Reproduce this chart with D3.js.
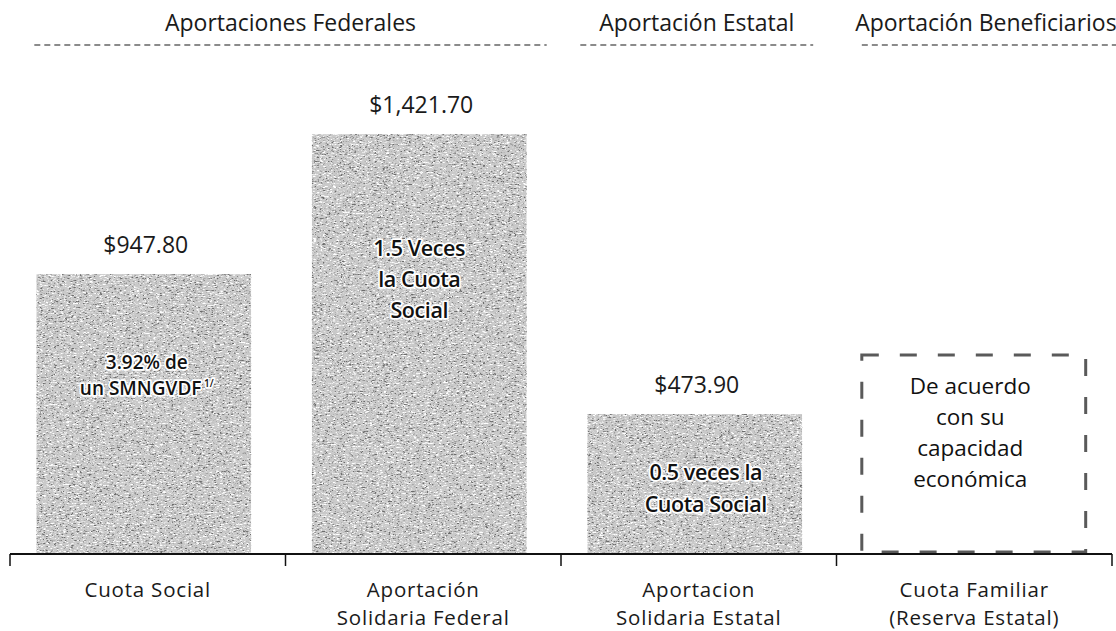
<!DOCTYPE html>
<html><head><meta charset="utf-8">
<script src="https://cdn.jsdelivr.net/npm/d3@7"></script>
<style>body{margin:0;background:#fff}svg{display:block}</style>
</head><body>
<svg id="chart" width="1116" height="631"></svg>
<script>
const categories = [["Cuota Social"], ["Aportación", "Solidaria Federal"], ["Aportacion", "Solidaria Estatal"], ["Cuota Familiar", "(Reserva Estatal)"]];
const values = [947.80, 1421.70, 473.90, 674];
const valueLabels = ["$947.80", "$1,421.70", "$473.90", ""];
const innerLabels = [["3.92% de", "un SMNGVDF"], ["1.5 Veces", "la Cuota", "Social"], ["0.5 veces la", "Cuota Social"], ["De acuerdo", "con su", "capacidad", "económica"]];
const groupNames = ["Aportaciones Federales", "Aportación Estatal", "Aportación Beneficiarios"];
const groupFrom = [0, 2, 3];
const groupTo = [1, 2, 3];

const FONT = "'Open Sans', sans-serif";
const FS = 23;
const svg = d3.select("#chart");
const x = d3.scaleBand().domain(d3.range(categories.length)).range([6, 1108]).paddingInner(0.22).paddingOuter(0.11);
const xb = d3.scaleBand().domain(d3.range(categories.length)).range([10, 1112]);
const y = d3.scaleLinear().domain([0, 1500]).range([554, 111]);
const cx = i => x(i) + x.bandwidth() / 2;

// scanned-paper texture filter
const defs = svg.append("defs");
const f = defs.append("filter").attr("id", "noise").attr("x", 0).attr("y", 0).attr("width", 1).attr("height", 1);
f.append("feTurbulence").attr("type", "fractalNoise").attr("baseFrequency", "0.35 1.3").attr("numOctaves", 3).attr("seed", 2).attr("result", "t1");
f.append("feColorMatrix").attr("in", "t1").attr("type", "matrix")
  .attr("values", "0 0 0 0 0.15  0 0 0 0 0.15  0 0 0 0 0.15  5 0 0 0 -2.8").attr("result", "dark");
f.append("feTurbulence").attr("type", "fractalNoise").attr("baseFrequency", "0.3 1.1").attr("numOctaves", 3).attr("seed", 9).attr("result", "t2");
f.append("feColorMatrix").attr("in", "t2").attr("type", "matrix")
  .attr("values", "0 0 0 0 1  0 0 0 0 1  0 0 0 0 1  -5 0 0 0 2.3").attr("result", "light");
f.append("feMerge").attr("result", "m").selectAll("feMergeNode").data(["SourceGraphic", "light", "dark"]).join("feMergeNode").attr("in", d => d);
f.append("feComposite").attr("in", "m").attr("in2", "SourceGraphic").attr("operator", "in");

svg.append("g").selectAll("rect").data(d3.range(3)).join("rect")
  .attr("x", i => x(i)).attr("width", x.bandwidth())
  .attr("y", i => y(values[i])).attr("height", i => y(0) - y(values[i]))
  .attr("fill", "#c9c9c9").attr("filter", "url(#noise)");

// dashed box for the family quota
svg.append("rect")
  .attr("x", x(3) - 1).attr("width", x.bandwidth() + 9)
  .attr("y", y(values[3])).attr("height", y(0) - y(values[3]) - 2)
  .attr("fill", "#fff").attr("stroke", "#5a5a5a").attr("stroke-width", 3)
  .attr("stroke-dasharray", "17 21");

// value labels
svg.append("g").selectAll("text").data(d3.range(4).filter(i => valueLabels[i])).join("text")
  .attr("x", i => cx(i) + 2).attr("y", i => y(values[i]) - 21)
  .attr("text-anchor", "middle").attr("font-family", FONT).attr("font-size", FS).attr("fill", "#1a1a1a")
  .text(i => valueLabels[i]);

// inner labels
const innerY = [369, 256, 480, 394];
const innerLH = [26, 31, 32, 31];
const innerDX = [3, 0, 11, 0];
const innerFS = [19, 21.5, 21.5, 22.5];
const innerLS = [0, -0.4, -0.4, 0];
const innerFW = [600, 600, 600, 400];
innerLabels.forEach((lines, i) => {
  const t = svg.append("text").attr("text-anchor", "middle").attr("font-family", FONT)
    .attr("font-size", innerFS[i]).attr("font-weight", innerFW[i]).attr("fill", "#111").attr("letter-spacing", innerLS[i]);
  if (i < 3) t.attr("stroke", "#fff").attr("stroke-width", 3.5).attr("paint-order", "stroke").attr("stroke-linejoin", "round");
  lines.forEach((ln, k) => {
    t.append("tspan").attr("x", cx(i) + innerDX[i]).attr("y", innerY[i] + k * innerLH[i]).text(ln);
    if (i === 0 && k === 1) t.append("tspan").attr("dy", -8).attr("font-size", 10).text(" 1/");
  });
});

// axis
svg.append("line").attr("x1", 10).attr("x2", 1112).attr("y1", y(0)).attr("y2", y(0)).attr("stroke", "#111").attr("stroke-width", 2);
svg.append("g").selectAll("line").data(d3.range(5)).join("line")
  .attr("x1", i => i < 4 ? xb(i) : 1112).attr("x2", i => i < 4 ? xb(i) : 1112)
  .attr("y1", y(0)).attr("y2", y(0) + 12).attr("stroke", "#111").attr("stroke-width", 1.5);

// category labels
categories.forEach((lines, i) => {
  const t = svg.append("text").attr("text-anchor", "middle").attr("font-family", FONT).attr("font-size", 20.5)
    .attr("letter-spacing", 0.8).attr("fill", "#1a1a1a");
  lines.forEach((ln, k) => t.append("tspan").attr("x", xb(i) + xb.bandwidth() / 2).attr("y", 597 + k * 28).text(ln));
});

// group headers with dashed underline
const padL = [-2, -7, -1], padR = [20, 11, 40];
groupNames.forEach((name, g) => {
  const x0 = x(groupFrom[g]) + padL[g];
  const x1 = Math.min(1116, x(groupTo[g]) + x.bandwidth() + padR[g]);
  svg.append("text").attr("x", (x0 + x1) / 2 - (g === 2 ? 3 : 0)).attr("y", 31).attr("text-anchor", "middle")
    .attr("font-family", FONT).attr("font-size", FS).attr("fill", "#1a1a1a").text(name);
  svg.append("line").attr("x1", x0).attr("x2", x1).attr("y1", 45).attr("y2", 45)
    .attr("stroke", "#666").attr("stroke-width", 1.5).attr("stroke-dasharray", "6 4");
});
</script>
</body></html>
